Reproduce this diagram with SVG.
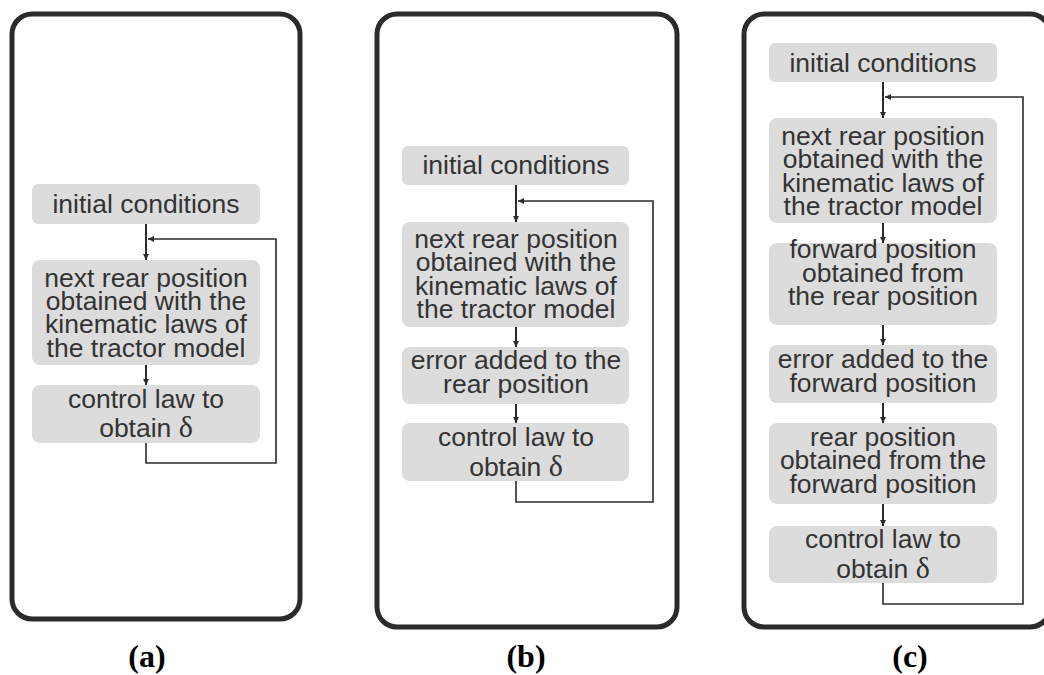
<svg xmlns="http://www.w3.org/2000/svg" width="1044" height="675" viewBox="0 0 1044 675">
<style>
.frame{fill:#fff;stroke:#2b2b2b;stroke-width:5}
.box{fill:#dcdcdc;stroke:none}
.t{font-family:"Liberation Sans",Arial,sans-serif;font-size:26.5px;fill:#333;text-anchor:middle}
.d{font-family:"Liberation Serif","Times New Roman",serif;font-size:30px}
.lbl{font-family:"Liberation Serif","Times New Roman",serif;font-size:32px;font-weight:bold;fill:#000;text-anchor:middle}
.c{fill:none;stroke:#2b2b2b;stroke-width:2}
.fb{fill:none;stroke:#2b2b2b;stroke-width:1.6}
</style>
<defs>
<marker id="ah" viewBox="0 0 10 10" refX="10" refY="5" markerWidth="6" markerHeight="6" markerUnits="userSpaceOnUse" orient="auto">
<path d="M0,0 L10,5 L0,10 z" fill="#2b2b2b"/>
</marker>
</defs>
<rect fill="#fff" width="1044" height="675"/>
<g id="frames">
<rect id="frame-a" class="frame" x="12" y="14" width="288" height="605" rx="20"/>
<rect id="frame-b" class="frame" x="377" y="14" width="300" height="613" rx="20"/>
<rect id="frame-c" class="frame" x="744" y="14" width="306" height="613" rx="20"/>
</g>
<g id="connectors">
<line class="c" x1="146" y1="224" x2="146" y2="260" marker-end="url(#ah)"/>
<line class="c" x1="146" y1="365" x2="146" y2="385" marker-end="url(#ah)"/>
<polyline class="fb" points="146,443 146,463 276,463 276,239 148,239" marker-end="url(#ah)"/>
<line class="c" x1="516" y1="185" x2="516" y2="222" marker-end="url(#ah)"/>
<line class="c" x1="516" y1="327" x2="516" y2="347" marker-end="url(#ah)"/>
<line class="c" x1="516" y1="404" x2="516" y2="423" marker-end="url(#ah)"/>
<polyline class="fb" points="516,481 516,502 653,502 653,201 518,201" marker-end="url(#ah)"/>
<line class="c" x1="883" y1="82" x2="883" y2="118" marker-end="url(#ah)"/>
<line class="c" x1="883" y1="223" x2="883" y2="243" marker-end="url(#ah)"/>
<line class="c" x1="883" y1="325" x2="883" y2="345" marker-end="url(#ah)"/>
<line class="c" x1="883" y1="403" x2="883" y2="423" marker-end="url(#ah)"/>
<line class="c" x1="883" y1="504" x2="883" y2="526" marker-end="url(#ah)"/>
<polyline class="fb" points="883,583 883,604 1023,604 1023,97 885,97" marker-end="url(#ah)"/>
</g>
<g id="a1"><rect class="box" x="32" y="184" width="228" height="40" rx="6"/>
<text class="t" x="146" y="213">initial conditions</text></g>
<g id="a2"><rect class="box" x="32" y="260" width="228" height="105" rx="8"/>
<text class="t" x="146" y="286.7">next rear position</text>
<text class="t" x="146" y="310">obtained with the</text>
<text class="t" x="146" y="333.3">kinematic laws of</text>
<text class="t" x="146" y="356.7">the tractor model</text></g>
<g id="a3"><rect class="box" x="32" y="385" width="228" height="58" rx="8"/>
<text class="t" x="146" y="407.5">control law to</text>
<text class="t" x="146" y="437">obtain <tspan class="d">δ</tspan></text></g>
<g id="b1"><rect class="box" x="402" y="146" width="227" height="39" rx="6"/>
<text class="t" x="516" y="174">initial conditions</text></g>
<g id="b2"><rect class="box" x="402" y="222" width="227" height="105" rx="8"/>
<text class="t" x="516" y="248">next rear position</text>
<text class="t" x="516" y="271.3">obtained with the</text>
<text class="t" x="516" y="294.7">kinematic laws of</text>
<text class="t" x="516" y="318">the tractor model</text></g>
<g id="b3"><rect class="box" x="402" y="347" width="227" height="57" rx="8"/>
<text class="t" x="516" y="369">error added to the</text>
<text class="t" x="516" y="393">rear position</text></g>
<g id="b4"><rect class="box" x="402" y="423" width="227" height="58" rx="8"/>
<text class="t" x="516" y="446">control law to</text>
<text class="t" x="516" y="475.5">obtain <tspan class="d">δ</tspan></text></g>
<g id="c1"><rect class="box" x="769" y="43" width="228" height="39" rx="6"/>
<text class="t" x="883" y="72">initial conditions</text></g>
<g id="c2"><rect class="box" x="769" y="118" width="228" height="105" rx="8"/>
<text class="t" x="883" y="145">next rear position</text>
<text class="t" x="883" y="168.3">obtained with the</text>
<text class="t" x="883" y="191.7">kinematic laws of</text>
<text class="t" x="883" y="215">the tractor model</text></g>
<g id="c3"><rect class="box" x="769" y="243" width="228" height="82" rx="8"/>
<text class="t" x="883" y="258.3">forward position</text>
<text class="t" x="883" y="281.7">obtained from</text>
<text class="t" x="883" y="305">the rear position</text></g>
<g id="c4"><rect class="box" x="769" y="345" width="228" height="58" rx="8"/>
<text class="t" x="883" y="368">error added to the</text>
<text class="t" x="883" y="392">forward position</text></g>
<g id="c5"><rect class="box" x="769" y="423" width="228" height="81" rx="8"/>
<text class="t" x="883" y="446">rear position</text>
<text class="t" x="883" y="469.3">obtained from the</text>
<text class="t" x="883" y="492.7">forward position</text></g>
<g id="c6"><rect class="box" x="769" y="526" width="228" height="57" rx="8"/>
<text class="t" x="883" y="548">control law to</text>
<text class="t" x="883" y="578">obtain <tspan class="d">δ</tspan></text></g>
<g id="labels">
<text class="lbl" x="147" y="667">(a)</text>
<text class="lbl" x="526" y="667">(b)</text>
<text class="lbl" x="910" y="667">(c)</text>
</g>
</svg>
